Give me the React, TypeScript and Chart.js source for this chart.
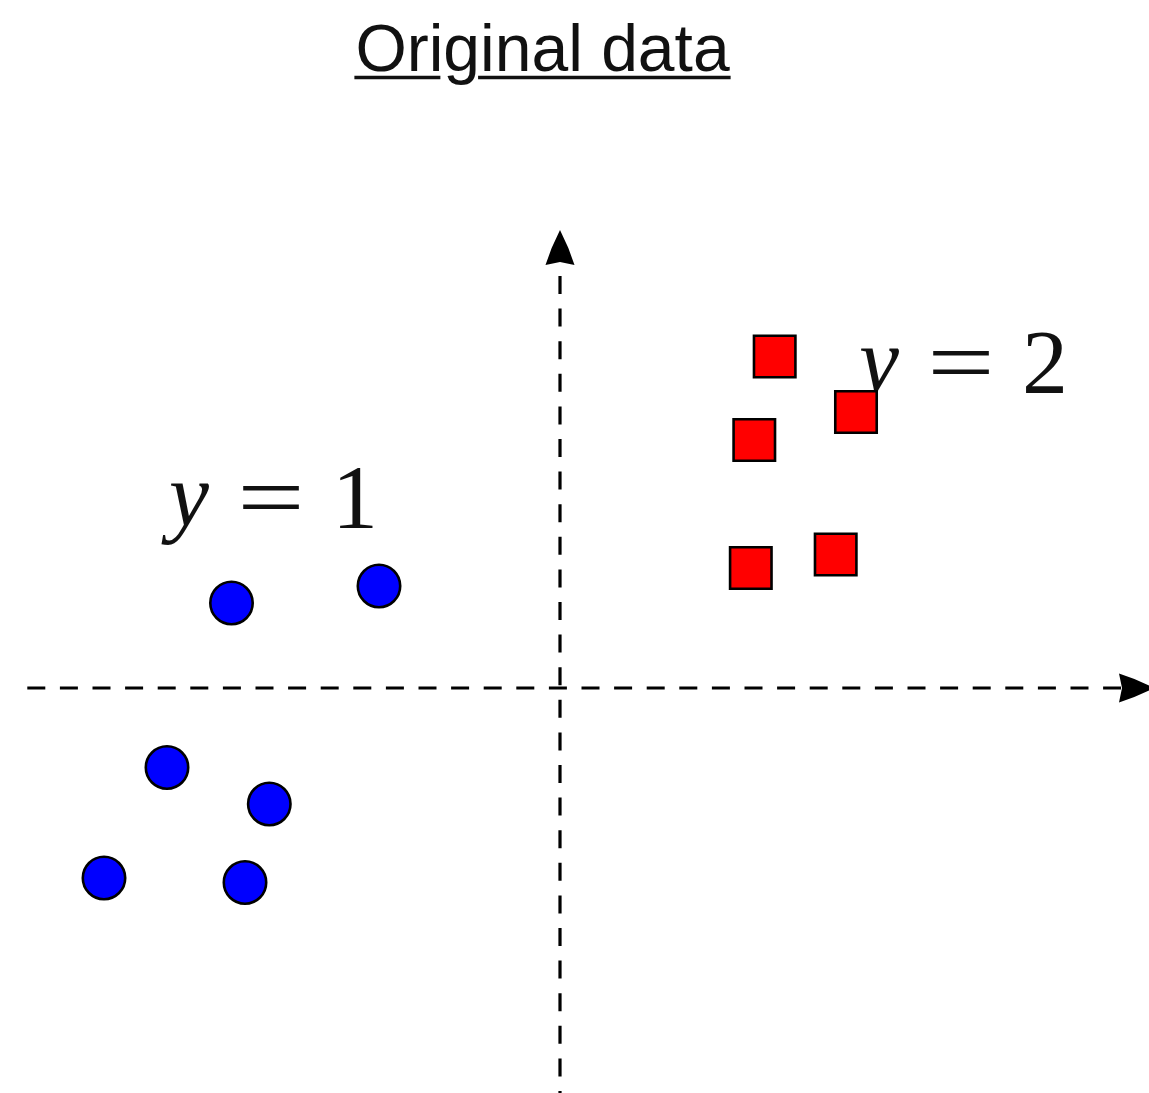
import { useEffect, useRef } from "react";
import { Chart, registerables } from "chart.js";

Chart.register(...registerables);

// Class y = 1 (blue circles)
const classOneX = [-3.285, -1.81, -3.93, -2.907, -4.56, -3.15];
const classOneY = [0.85, 1.02, -0.795, -1.16, -1.9, -1.945];

// Class y = 2 (red squares)
const classTwoX = [2.147, 2.96, 1.943, 1.908, 2.757];
const classTwoY = [3.315, 2.76, 2.48, 1.2, 1.335];

// Class annotations: value shown after "y =", anchored at the text's left baseline
const classValues = ["1", "2"];
const classLabelX = [-3.95, 2.95];
const classLabelY = [1.6, 2.95];

const TITLE = "Original data";

// Visible window in data units
const X_MIN = -5.6;
const X_MAX = 5.89;
const Y_MIN = -4.05;
const Y_MAX = 6.88;

// Extent of the dashed coordinate axes (data units)
const H_AXIS_START = -5.327;
const H_AXIS_TIP = 5.94;
const V_AXIS_START = -4.05;
const V_AXIS_TIP = 4.58;

const ARROW_LEN = 35;
const ARROW_HALF = 14.5;

function drawArrowHead(
  ctx: CanvasRenderingContext2D,
  tipX: number,
  tipY: number,
  dirX: number,
  dirY: number
) {
  const nx = -dirY;
  const ny = dirX;
  const bx = tipX - dirX * ARROW_LEN;
  const by = tipY - dirY * ARROW_LEN;
  ctx.beginPath();
  ctx.moveTo(tipX, tipY);
  ctx.quadraticCurveTo(
    tipX - dirX * ARROW_LEN * 0.5 + nx * ARROW_HALF * 0.62,
    tipY - dirY * ARROW_LEN * 0.5 + ny * ARROW_HALF * 0.62,
    bx + nx * ARROW_HALF,
    by + ny * ARROW_HALF
  );
  ctx.lineTo(bx + dirX * 3, by + dirY * 3);
  ctx.lineTo(bx - nx * ARROW_HALF, by - ny * ARROW_HALF);
  ctx.quadraticCurveTo(
    tipX - dirX * ARROW_LEN * 0.5 - nx * ARROW_HALF * 0.62,
    tipY - dirY * ARROW_LEN * 0.5 - ny * ARROW_HALF * 0.62,
    tipX,
    tipY
  );
  ctx.closePath();
  ctx.fill();
}

const axesPlugin = {
  id: "dashedAxes",
  beforeDatasetsDraw(chart: any) {
    const { ctx, scales } = chart;
    const xs = scales.x;
    const ys = scales.y;
    const x0 = xs.getPixelForValue(0);
    const y0 = ys.getPixelForValue(0);
    ctx.save();
    ctx.strokeStyle = "#000";
    ctx.fillStyle = "#000";
    ctx.lineWidth = 3.2;
    ctx.setLineDash([18, 14.6]);

    // horizontal axis
    const hStart = xs.getPixelForValue(H_AXIS_START);
    const hTip = xs.getPixelForValue(H_AXIS_TIP);
    ctx.beginPath();
    ctx.moveTo(hStart, y0);
    ctx.lineTo(hTip - ARROW_LEN + 2, y0);
    ctx.stroke();

    // vertical axis, drawn upwards from the bottom
    const vStart = ys.getPixelForValue(V_AXIS_START);
    const vTip = ys.getPixelForValue(V_AXIS_TIP);
    const vTopLine = vTip + ARROW_LEN - 2;
    ctx.lineDashOffset = 16;
    ctx.beginPath();
    ctx.moveTo(x0, vStart);
    ctx.lineTo(x0, vTopLine);
    ctx.stroke();

    ctx.setLineDash([]);
    drawArrowHead(ctx, hTip, y0, 1, 0);
    drawArrowHead(ctx, x0, vTip, 0, -1);
    ctx.restore();
  },
};

const classLabelPlugin = {
  id: "classLabels",
  beforeDatasetsDraw(chart: any) {
    const { ctx, scales } = chart;
    ctx.save();
    ctx.fillStyle = "#111";
    ctx.textBaseline = "alphabetic";
    classValues.forEach((val, i) => {
      const px = scales.x.getPixelForValue(classLabelX[i]);
      const py = scales.y.getPixelForValue(classLabelY[i]);
      ctx.font = "italic 90px 'Liberation Serif'";
      ctx.textAlign = "left";
      ctx.fillText("y", px + 4, py - 2);
      ctx.font = "92px 'Liberation Serif'";
      ctx.textAlign = "center";
      ctx.save();
      ctx.translate(px + 106, py);
      ctx.scale(1.3, 1);
      ctx.fillText("=", 0, 0);
      ctx.restore();
      ctx.fillText(val, px + 190, py);
    });
    ctx.restore();
  },
};

const titlePlugin = {
  id: "underlinedTitle",
  afterDraw(chart: any) {
    const { ctx } = chart;
    const cx = 542.5;
    const baseline = 70.5;
    ctx.save();
    ctx.font = "66px 'Liberation Sans'";
    ctx.fillStyle = "#111";
    ctx.strokeStyle = "#111";
    ctx.textAlign = "left";
    ctx.textBaseline = "alphabetic";
    const w = ctx.measureText(TITLE).width;
    const left = cx - w / 2;
    ctx.fillText(TITLE, left, baseline);
    // underline with a break under the descender of "g"
    const gStart = left + ctx.measureText("Ori").width - 3;
    const gEnd = left + ctx.measureText("Orig").width - 2;
    ctx.lineWidth = 3.5;
    ctx.beginPath();
    ctx.moveTo(left - 1, baseline + 7);
    ctx.lineTo(gStart, baseline + 7);
    ctx.moveTo(gEnd, baseline + 7);
    ctx.lineTo(left + w + 1, baseline + 7);
    ctx.stroke();
    ctx.restore();
  },
};

export default function App() {
  const canvasRef = useRef<HTMLCanvasElement>(null);

  useEffect(() => {
    const canvas = canvasRef.current;
    if (!canvas) return;
    const chart = new Chart(canvas, {
      type: "scatter",
      data: {
        datasets: [
          {
            label: "y = 1",
            data: classOneX.map((x, i) => ({ x, y: classOneY[i] })),
            pointStyle: "circle",
            pointRadius: 21.2,
            pointHoverRadius: 21.2,
            borderWidth: 2.6,
            backgroundColor: "#0000ff",
            borderColor: "#000",
          },
          {
            label: "y = 2",
            data: classTwoX.map((x, i) => ({ x, y: classTwoY[i] })),
            pointStyle: "rect",
            pointRadius: 29.3,
            pointHoverRadius: 29.3,
            borderWidth: 2.6,
            backgroundColor: "#ff0000",
            borderColor: "#000",
          },
        ],
      },
      options: {
        animation: false,
        responsive: false,
        devicePixelRatio: 1,
        events: [],
        layout: { padding: 0, autoPadding: false },
        plugins: {
          legend: { display: false },
          tooltip: { enabled: false },
          title: { display: false },
        },
        scales: {
          x: { type: "linear", min: X_MIN, max: X_MAX, display: false },
          y: { type: "linear", min: Y_MIN, max: Y_MAX, display: false },
        },
      },
      plugins: [axesPlugin, classLabelPlugin, titlePlugin],
    });
    return () => chart.destroy();
  }, []);

  return (
    <div
      style={{
        position: "fixed",
        left: 0,
        top: 0,
        width: 1149,
        height: 1093,
        background: "#fff",
      }}
    >
      <canvas
        ref={canvasRef}
        width={1149}
        height={1093}
        style={{ display: "block" }}
      />
    </div>
  );
}
